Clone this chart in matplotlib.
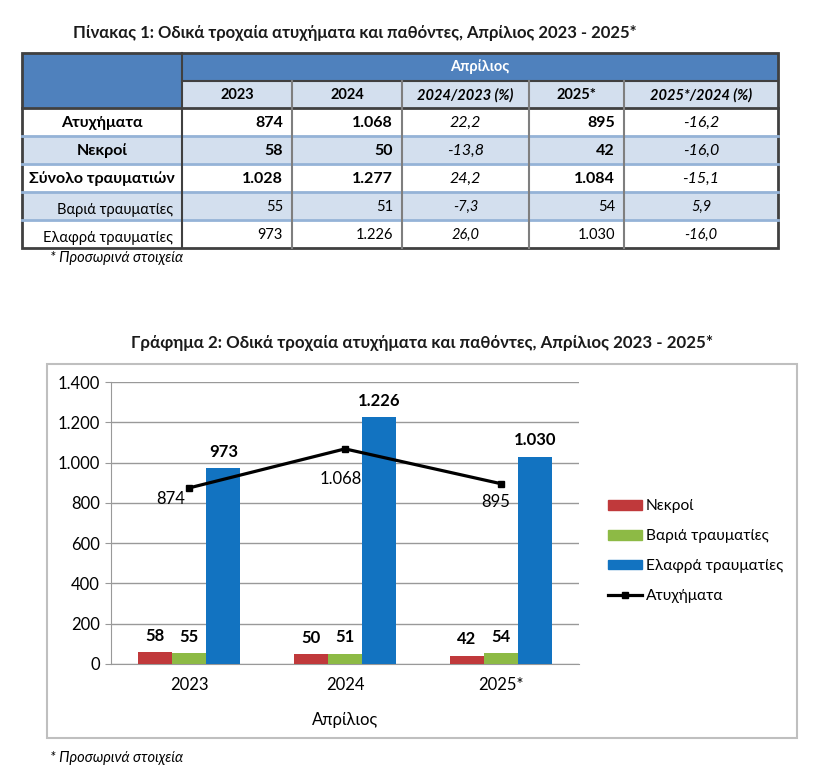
import numpy as np
import matplotlib.pyplot as plt
from matplotlib.patches import Rectangle, Patch
from matplotlib.lines import Line2D

plt.rcParams['font.family'] = ['Lato', 'DejaVu Sans']

# data
years = ['2023', '2024', '2025*']
accidents = [874, 1068, 895]
deaths = [58, 50, 42]
serious = [55, 51, 54]
slight = [973, 1226, 1030]
total_injured = [1028, 1277, 1084]
pct_24_23 = ['22,2', '-13,8', '24,2', '-7,3', '26,0']
pct_25_24 = ['-16,2', '-16,0', '-15,1', '5,9', '-16,0']
row_labels = ['Ατυχήματα', 'Νεκροί', 'Σύνολο τραυματιών', 'Βαριά τραυματίες', 'Ελαφρά τραυματίες']
col_headers = ['2023', '2024', '2024/2023 (%)', '2025*', '2025*/2024 (%)']
series_names = ['Νεκροί', 'Βαριά τραυματίες', 'Ελαφρά τραυματίες', 'Ατυχήματα']


def gr(n):
    return f'{n:,}'.replace(',', '.')


dark_blue = '#4F81BD'
light_blue = '#D3DFEE'
c_red = '#C0393B'
c_green = '#8DBA45'
c_blue = '#1273C1'

fig = plt.figure(figsize=(8.22, 7.77), dpi=100)
bg = fig.add_axes([0, 0, 1, 1])
bg.set_xlim(0, 822)
bg.set_ylim(777, 0)
bg.axis('off')

# ---------- table ----------
bg.text(355, 33, 'Πίνακας 1: Οδικά τροχαία ατυχήματα και παθόντες, Απρίλιος 2023 - 2025*',
        ha='center', va='center', fontsize=12, fontweight='bold', color='#1a1a1a')

col_x = [22, 182, 292, 402, 529, 624, 778]
row_y = [53, 81, 108, 136, 164, 192, 220, 248]

bg.add_patch(Rectangle((22, 53), 756, 28, color=dark_blue))
bg.add_patch(Rectangle((22, 81), 160, 27, color=dark_blue))
bg.add_patch(Rectangle((182, 81), 596, 27, color=light_blue))
for i in range(5):
    fc = light_blue if i % 2 == 1 else 'white'
    bg.add_patch(Rectangle((22, row_y[i + 2]), 756, 28, color=fc))

# row and column lines
for y in row_y[3:7]:
    bg.plot([22, 778], [y, y], color='#95B3D7', lw=2)
bg.plot([182, 778], [81, 81], color='#404040', lw=1.5)
bg.plot([22, 778], [108, 108], color='#404040', lw=2)
for x in col_x[2:6]:
    bg.plot([x, x], [81, 248], color='#7F7F7F', lw=1.5)
bg.plot([182, 182], [53, 248], color='#404040', lw=1.5)
bg.add_patch(Rectangle((22, 53), 756, 195, fill=False, ec='#404040', lw=2))

bg.text(480, 67, 'Απρίλιος', ha='center', va='center', color='white',
        fontsize=10.5, fontweight='bold')
for j, h in enumerate(col_headers):
    cx = (col_x[j + 1] + col_x[j + 2]) / 2
    bg.text(cx, 95, h, ha='center', va='center', fontsize=10.5, fontweight='bold',
            style='italic' if '%' in h else 'normal')

table_rows = [
    [gr(accidents[0]), gr(accidents[1]), gr(accidents[2])],
    [gr(deaths[0]), gr(deaths[1]), gr(deaths[2])],
    [gr(total_injured[0]), gr(total_injured[1]), gr(total_injured[2])],
    [gr(serious[0]), gr(serious[1]), gr(serious[2])],
    [gr(slight[0]), gr(slight[1]), gr(slight[2])],
]
for i, lab in enumerate(row_labels):
    cy = (row_y[i + 2] + row_y[i + 3]) / 2 + 1
    bold = i < 3
    fs = 11.5 if bold else 10.5
    fw = 'bold' if bold else 'normal'
    if bold:
        bg.text(102, cy, lab, ha='center', va='center', fontsize=fs, fontweight=fw)
    else:
        bg.text(173, cy + 3, lab, ha='right', va='center', fontsize=fs)
    v = table_rows[i]
    bg.text(283, cy, v[0], ha='right', va='center', fontsize=fs, fontweight=fw)
    bg.text(393, cy, v[1], ha='right', va='center', fontsize=fs, fontweight=fw)
    bg.text(615, cy, v[2], ha='right', va='center', fontsize=fs, fontweight=fw)
    bg.text(465.5, cy, pct_24_23[i], ha='center', va='center', fontsize=fs, style='italic')
    bg.text(701, cy, pct_25_24[i], ha='center', va='center', fontsize=fs, style='italic')

bg.text(50, 258, '* Προσωρινά στοιχεία', ha='left', va='center', fontsize=10.5, style='italic')

# ---------- chart ----------
bg.text(422, 343, 'Γράφημα 2: Οδικά τροχαία ατυχήματα και παθόντες, Απρίλιος 2023 - 2025*',
        ha='center', va='center', fontsize=12.2, fontweight='bold', color='#1a1a1a')
bg.add_patch(Rectangle((47, 364), 750, 374, fill=False, ec='#BFBFBF', lw=1.5))
bg.text(50, 758, '* Προσωρινά στοιχεία', ha='left', va='center', fontsize=10.5, style='italic')

ax = fig.add_axes([111 / 822, (777 - 664) / 777, 468 / 822, 282 / 777])
x = np.arange(len(years))
w = 0.22
b1 = ax.bar(x - w, deaths, w, color=c_red, zorder=3)
b2 = ax.bar(x, serious, w, color=c_green, zorder=3)
b3 = ax.bar(x + w, slight, w, color=c_blue, zorder=3)
ax.plot(x, accidents, color='black', lw=2.3, marker='s', markersize=5, zorder=4)

for bars in (b1, b2, b3):
    for r in bars:
        ax.annotate(gr(int(r.get_height())), (r.get_x() + r.get_width() / 2, r.get_height()),
                    xytext=(0, 6), textcoords='offset points', ha='center', va='bottom',
                    fontsize=12, fontweight='bold')

line_offsets = [(-13, -8), (-3, -22), (-4, -13)]
for xi, v, off in zip(x, accidents, line_offsets):
    ax.annotate(gr(v), (xi, v), xytext=off, textcoords='offset points',
                ha='center', va='center', fontsize=12)

ax.set_xlim(-0.5, 2.5)
ax.set_ylim(0, 1400)
ax.set_yticks(range(0, 1401, 200))
ax.set_yticklabels([gr(t) for t in range(0, 1401, 200)], fontsize=12)
ax.set_xticks(x)
ax.set_xticklabels(years, fontsize=12)
ax.grid(axis='y', color='#999999', lw=1, zorder=0)
for s in ('top', 'right'):
    ax.spines[s].set_visible(False)
ax.spines['left'].set_color('#999999')
ax.spines['bottom'].set_color('#999999')
ax.tick_params(axis='y', length=4, color='#999999', pad=4)
ax.tick_params(axis='x', length=0, pad=9)
ax.set_xlabel('Απρίλιος', fontsize=12, labelpad=14)

handles = [Patch(color=c_red), Patch(color=c_green), Patch(color=c_blue),
           Line2D([], [], color='black', lw=2.3, marker='s', markersize=5)]
fig.legend(handles, series_names, loc='center left', bbox_to_anchor=(594 / 822, 1 - 551 / 777),
           frameon=False, fontsize=11.2, handlelength=2.2, handleheight=0.6,
           handletextpad=0.25, labelspacing=1.02)

fig.savefig('out.png', dpi=100)
